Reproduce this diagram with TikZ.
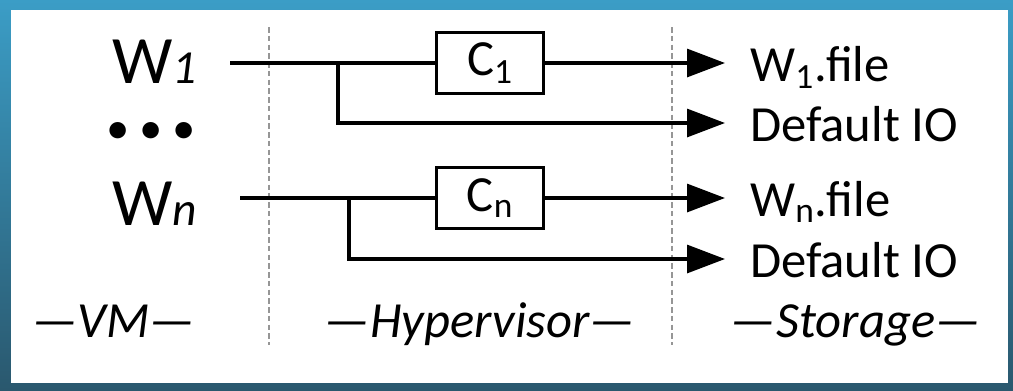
\documentclass[tikz,border=0pt]{standalone}
\usepackage{fontspec}
\setmainfont{Carlito}
\usetikzlibrary{arrows.meta,positioning}

\definecolor{frameTop}{RGB}{59,157,198}
\definecolor{frameBot}{RGB}{42,88,110}
\definecolor{sepGray}{RGB}{150,150,150}

\tikzset{
  wire/.style={line width=1.8pt},
  feed/.style={wire,-{Triangle[length=7.6mm,width=5.6mm]}},
  cbox/.style={draw,line width=1.6pt,minimum width=2.14cm,minimum height=1.22cm,
    inner sep=0pt,font=\fontsize{28.8}{30}\selectfont},
  wlabel/.style={anchor=west,inner sep=0pt,text height=0.86cm,text depth=0pt,
    font=\fontsize{38.6}{40}\selectfont},
  sinkname/.style={anchor=west,inner ysep=0pt,inner xsep=0.5cm,text height=0.72cm,
    text depth=0pt,font=\fontsize{28.8}{30}\selectfont},
  tierlabel/.style={anchor=base,inner sep=0pt,font=\fontsize{28.8}{30}\selectfont\itshape},
  sepline/.style={sepGray,line width=1.1pt,dash pattern=on 1.1mm off 0.65mm}
}

\begin{document}
\begin{tikzpicture}[x=0.2mm,y=-0.2mm]
\shade[top color=frameTop,bottom color=frameBot] (0,0) rectangle (1013,390);
\fill[white] (11,10) rectangle (1008,383);

% layer borders
\draw[sepline] (269,27) -- (269,345);
\draw[sepline] (672,27) -- (672,345);

% VM
\node[wlabel] (w1) at (112,61.5) {W{\fontsize{27}{28}\selectfont\itshape 1}};
\node[inner sep=0pt,font=\fontsize{22}{24}\selectfont\bfseries] (dots) at (151,132) {•\hspace{8pt}•\hspace{8pt}•};
\node[wlabel] (wn) at (112,203.5) {W{\fontsize{27}{28}\selectfont\itshape n}};

% Hypervisor
\node[cbox] (c1) at (490,63) {C\textsubscript{1}};
\node[cbox] (cn) at (490,198) {C\textsubscript{n}};

% Storage
\node[sinkname] (f1) at (725,63) {W\textsubscript{1}.file};
\node[sinkname] (d1) at (725,123) {Default IO};
\node[sinkname] (fn) at (725,198) {W\textsubscript{n}.file};
\node[sinkname] (dn) at (725,259) {Default IO};

\coordinate (s1) at (230,63);
\coordinate (b1) at (338,63);
\coordinate (sn) at (240,198);
\coordinate (bn) at (349,198);

\draw[wire] (s1) -- (c1);
\draw[feed] (c1) -- (f1.west);
\draw[feed] (b1) |- (d1.west);
\draw[wire] (sn) -- (cn);
\draw[feed] (cn) -- (fn.west);
\draw[feed] (bn) |- (dn.west);

\node[tierlabel] (vm) at (114,337) {---VM---};
\node[tierlabel] (hv) at (480,337) {---Hypervisor---};
\node[tierlabel] (st) at (856,337) {---Storage---};
\end{tikzpicture}
\end{document}
